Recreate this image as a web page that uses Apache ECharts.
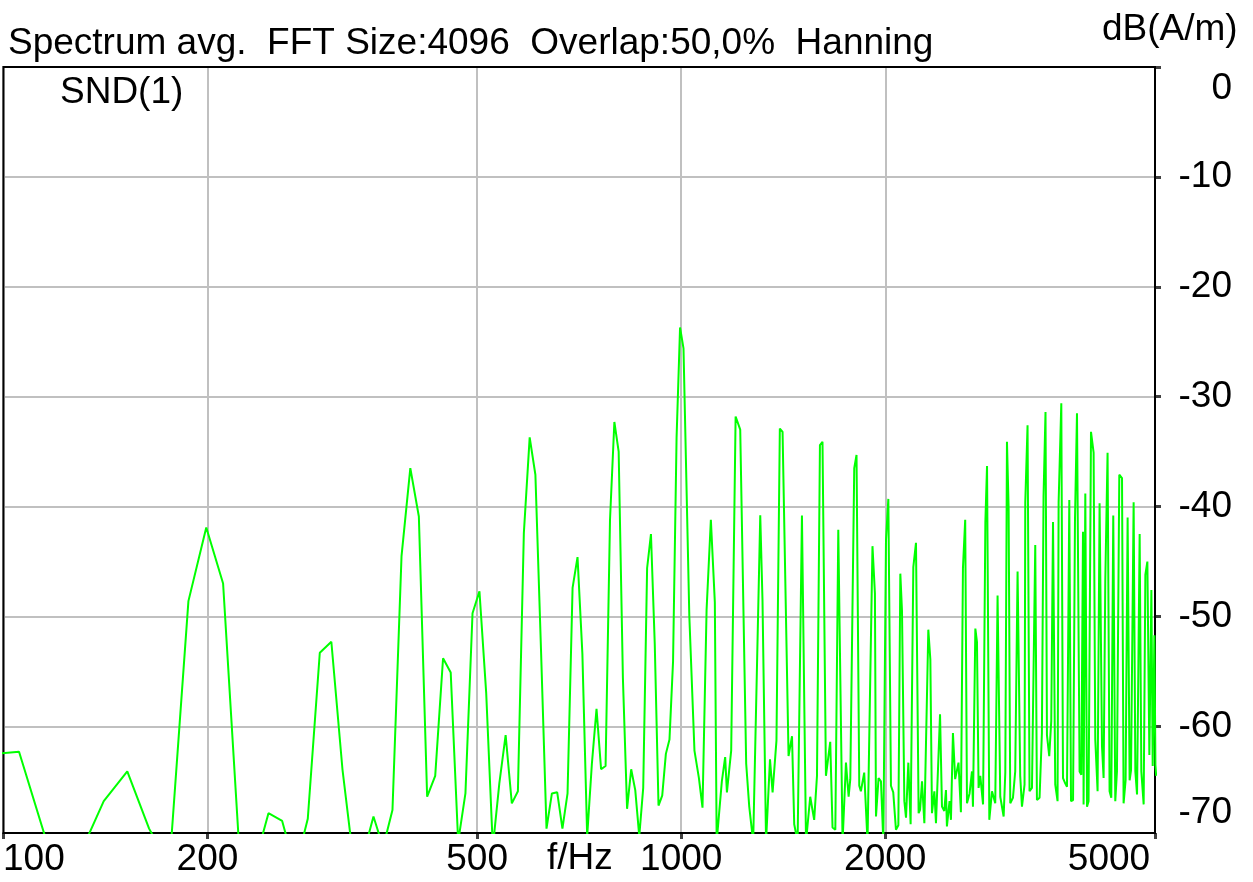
<!DOCTYPE html>
<html>
<head>
<meta charset="utf-8">
<title>Spectrum avg.</title>
<script src="https://cdn.jsdelivr.net/npm/echarts@6/dist/echarts.min.js"></script>
<style>
  html, body { margin: 0; padding: 0; background: #fff; }
  #myChart { width: 1253px; height: 882px; }
</style>
</head>
<body>
<div id="myChart"></div>
<script>
// spectrum: frequency in Hz, level in dB(A/m)
const freqHz = [
  93.75, 105.47, 117.19, 128.91, 140.63, 152.34, 164.06, 175.78, 187.5, 199.22,
  210.94, 222.66, 234.38, 246.09, 257.81, 269.53, 281.25, 292.97, 304.69, 316.41,
  328.13, 339.84, 351.56, 363.28, 375, 386.72, 398.44, 410.16, 421.88, 433.59,
  445.31, 457.03, 468.75, 480.47, 492.19, 503.91, 515.63, 527.34, 539.06, 550.78,
  562.5, 574.22, 585.94, 597.66, 609.38, 621.09, 632.81, 644.53, 656.25, 667.97,
  679.69, 691.41, 703.13, 714.84, 726.56, 738.28, 750, 761.72, 773.44, 785.16,
  796.88, 808.59, 820.31, 832.03, 843.75, 855.47, 867.19, 878.91, 890.63, 902.34,
  914.06, 925.78, 937.5, 949.22, 960.94, 972.66, 984.38, 996.09, 1007.81,
  1028, 1046, 1062, 1075, 1090, 1106, 1121, 1128, 1148, 1161, 1168, 1185, 1203, 1222, 1247,
  1260, 1277, 1308, 1318, 1334, 1352, 1364, 1382, 1398, 1411, 1440, 1457, 1468, 1485,
  1507, 1528, 1550, 1571, 1586, 1602, 1616, 1635, 1659, 1672, 1688, 1705, 1730, 1750,
  1766, 1776, 1800, 1814, 1831, 1841, 1862, 1883, 1915, 1931, 1938, 1955, 1971, 1987,
  2005, 2021, 2039, 2055, 2074, 2091, 2105, 2117, 2134, 2146, 2163, 2180, 2200, 2220,
  2240, 2251, 2266, 2284, 2315, 2331, 2344, 2363, 2376, 2409, 2425, 2444, 2458, 2466,
  2488, 2500, 2517, 2536, 2565, 2586, 2604, 2624, 2640, 2663, 2685, 2694, 2716, 2731,
  2746, 2762, 2788, 2810, 2826, 2848, 2874, 2906, 2929, 2956, 2990, 3007, 3024, 3041,
  3058, 3086, 3110, 3135, 3163, 3182, 3210, 3218, 3243, 3265, 3292, 3329, 3348, 3378,
  3405, 3424, 3447, 3464, 3491, 3515, 3536, 3563, 3591, 3604, 3637, 3658, 3687, 3708,
  3737, 3759, 3785, 3810, 3836, 3870, 3893, 3915, 3923, 3946, 3969, 3990, 4023, 4059,
  4082, 4114, 4142, 4176, 4199, 4223, 4256, 4285, 4310, 4339, 4369, 4394, 4429, 4470,
  4494, 4525, 4556, 4587, 4609, 4650, 4677, 4704, 4720, 4746, 4773, 4811, 4839, 4872,
  4905, 4939, 4961, 4990, 5007, 5020
];
const levelDb = [
  -62.6, -62.3, -71.5, -72, -66.8, -64.1, -69.3, -72.7, -48.6, -41.9,
  -47.0, -70.8, -72.7, -67.9, -68.6, -73, -68.4, -53.3, -52.3, -63.9,
  -72, -71.6, -68.2, -71, -67.6, -44.5, -36.5, -40.9, -66.4, -64.5,
  -53.8, -55.1, -70.5, -66.1, -49.7, -47.7, -57, -71, -65.2, -60.8,
  -67.0, -65.9, -42.4, -33.7, -37.1, -53, -69.3, -66.1, -66, -69.3,
  -66.1, -47.4, -44.6, -53.4, -70, -63.4, -58.4, -63.9, -63.6, -41.2,
  -32.3, -35.0, -55.6, -67.5, -63.9, -65.8, -70, -65.6, -45.6, -42.5,
  -52.5, -67.2, -66.3, -62.5, -61.2, -54.1, -33.7, -23.7, -25.6,
  -50, -62.2, -64.7, -67.4, -49.4, -41.2, -48.7, -70.5, -65, -62.8, -66, -62.2, -31.8, -33.0, -63.4,
  -67.3, -70.5, -40.8, -48.5, -70.5, -63, -66, -61.3, -32.9, -33.2, -62.7, -60.9, -68.9, -70.5,
  -40.8, -70.5, -66.4, -68.5, -64.5, -34.4, -34.1, -64.5, -61.4, -69.2, -69.4, -42.1, -70.5, -63.3,
  -66.4, -64.8, -36.5, -35.3, -65.4, -65.9, -64.2, -70.5, -43.6, -47.9, -68.2, -64.7, -65, -70.5,
  -43, -39.3, -65.4, -66, -69.4, -69, -46.1, -49.5, -66.8, -68.3, -63.3, -68.9, -45.5, -43.3,
  -67.9, -67.6, -65, -68.8, -51.2, -53.9, -67.9, -65.9, -68.8, -58.9, -67.3, -67.7, -65.8, -69.1,
  -66.8, -68.5, -60.6, -64.8, -63.3, -67.8, -45.6, -41.2, -67, -66.1, -64.1, -67.3, -51.1, -52.3,
  -65.6, -64.5, -67.1, -41.4, -36.3, -68.5, -65.9, -67, -48.1, -66.4, -68.2, -64.2, -34.1, -40.1,
  -67, -66.5, -64.1, -45.9, -64.5, -67.3, -65.3, -39.6, -32.6, -65.9, -65.6, -43.5, -66.7, -66.5,
  -60.6, -39.1, -31.4, -60.8, -62.7, -59.5, -41.4, -65.3, -66.8, -39.6, -30.6, -64.7, -65.2, -65.5,
  -39.4, -66.8, -66.7, -41.2, -31.5, -64.1, -64.4, -42.3, -67.1, -38.8, -67.3, -66.8, -33.2, -35.1,
  -61.2, -65.9, -39.7, -61.8, -64.7, -46.8, -35.1, -65.9, -66.5, -40.8, -66.8, -64.1, -37.1, -37.4,
  -67, -64.9, -41, -64.9, -64, -39.6, -64.1, -66.2, -57.6, -42.5, -64.1, -67.1, -46.2, -45,
  -62.6, -47.6, -63.6, -51.7, -63.5, -64.5
];

const freqTicks = [100, 200, 500, 1000, 2000, 5000];
const levelTicks = [0, -10, -20, -30, -40, -50, -60];
const levelLabels = [0, -10, -20, -30, -40, -50, -60, -70];

const FONT = 'Liberation Sans, Arial, sans-serif';
const FS = 37;
const xMin = 100, xMax = 5000;
const yMin = -69.7, yMax = 0;

const textStyle = { fontFamily: FONT, fontSize: FS, fontWeight: 'normal', color: '#000', lineHeight: 40 };
const labelFont = { fontFamily: FONT, fontSize: FS, color: '#000' };

const chart = echarts.init(document.getElementById('myChart'));
chart.setOption({
  animation: false,
  backgroundColor: '#fff',
  title: [
    { text: 'Spectrum avg.  FFT Size:4096  Overlap:50,0%  Hanning', left: 8, top: 24, padding: 0, textStyle: textStyle },
    { text: 'dB(A/m)', left: 1102, top: 10, padding: 0, textStyle: textStyle },
    { text: 'SND(1)', left: 60, top: 73, padding: 0, textStyle: textStyle },
    { text: 'f/Hz', left: 547, top: 839, padding: 0, textStyle: textStyle }
  ],
  // the plot frame, kept above the grid lines
  grid: {
    left: 3, right: 98, top: 67, bottom: 49, z: 3,
    show: true, borderColor: '#000', borderWidth: 2, backgroundColor: 'transparent'
  },
  xAxis: {
    type: 'log',
    logBase: 10,
    min: xMin,
    max: xMax,
    axisLine: { show: true, onZero: false, lineStyle: { color: '#000', width: 2 } },
    axisTick: { show: true, customValues: freqTicks, length: 6, lineStyle: { color: '#404040', width: 3 } },
    splitLine: { show: true, lineStyle: { color: '#c0c0c0', width: 2 } },
    axisLabel: Object.assign({
      customValues: freqTicks,
      margin: 8,
      formatter: v => {
        const n = Math.round(v);
        if (n === 100) return '{first|100}';
        if (n === 5000) return '{last|5000}';
        return String(n);
      },
      rich: {
        first: Object.assign({ padding: [0, 0, 0, 61] }, labelFont),
        last: Object.assign({ padding: [0, 92, 0, 0] }, labelFont)
      }
    }, labelFont)
  },
  yAxis: {
    type: 'value',
    position: 'right',
    min: yMin,
    max: yMax,
    axisLine: { show: true, onZero: false, lineStyle: { color: '#000', width: 2 } },
    axisTick: { show: true, customValues: levelTicks, length: 6, lineStyle: { color: '#404040', width: 3 } },
    splitLine: { show: true, lineStyle: { color: '#c0c0c0', width: 2 } },
    axisLabel: Object.assign({
      customValues: levelLabels.map(v => Math.max(v, yMin)),
      margin: 77,
      align: 'right',
      formatter: v => {
        const t = String(Math.round(v));
        if (v >= 0) return '{top|' + t + '}';
        if (v <= yMin) return '{bot|' + t + '}';
        return t;
      },
      rich: {
        top: Object.assign({ padding: [44, 0, 0, 0] }, labelFont),
        bot: Object.assign({ padding: [0, 0, 40, 0] }, labelFont)
      }
    }, labelFont)
  },
  series: [
    {
      type: 'line',
      data: freqHz.map((f, i) => [f, levelDb[i]]),
      showSymbol: false,
      clip: true,
      lineStyle: { color: '#00ff00', width: 2 }
    }
  ]
});
</script>
</body>
</html>
